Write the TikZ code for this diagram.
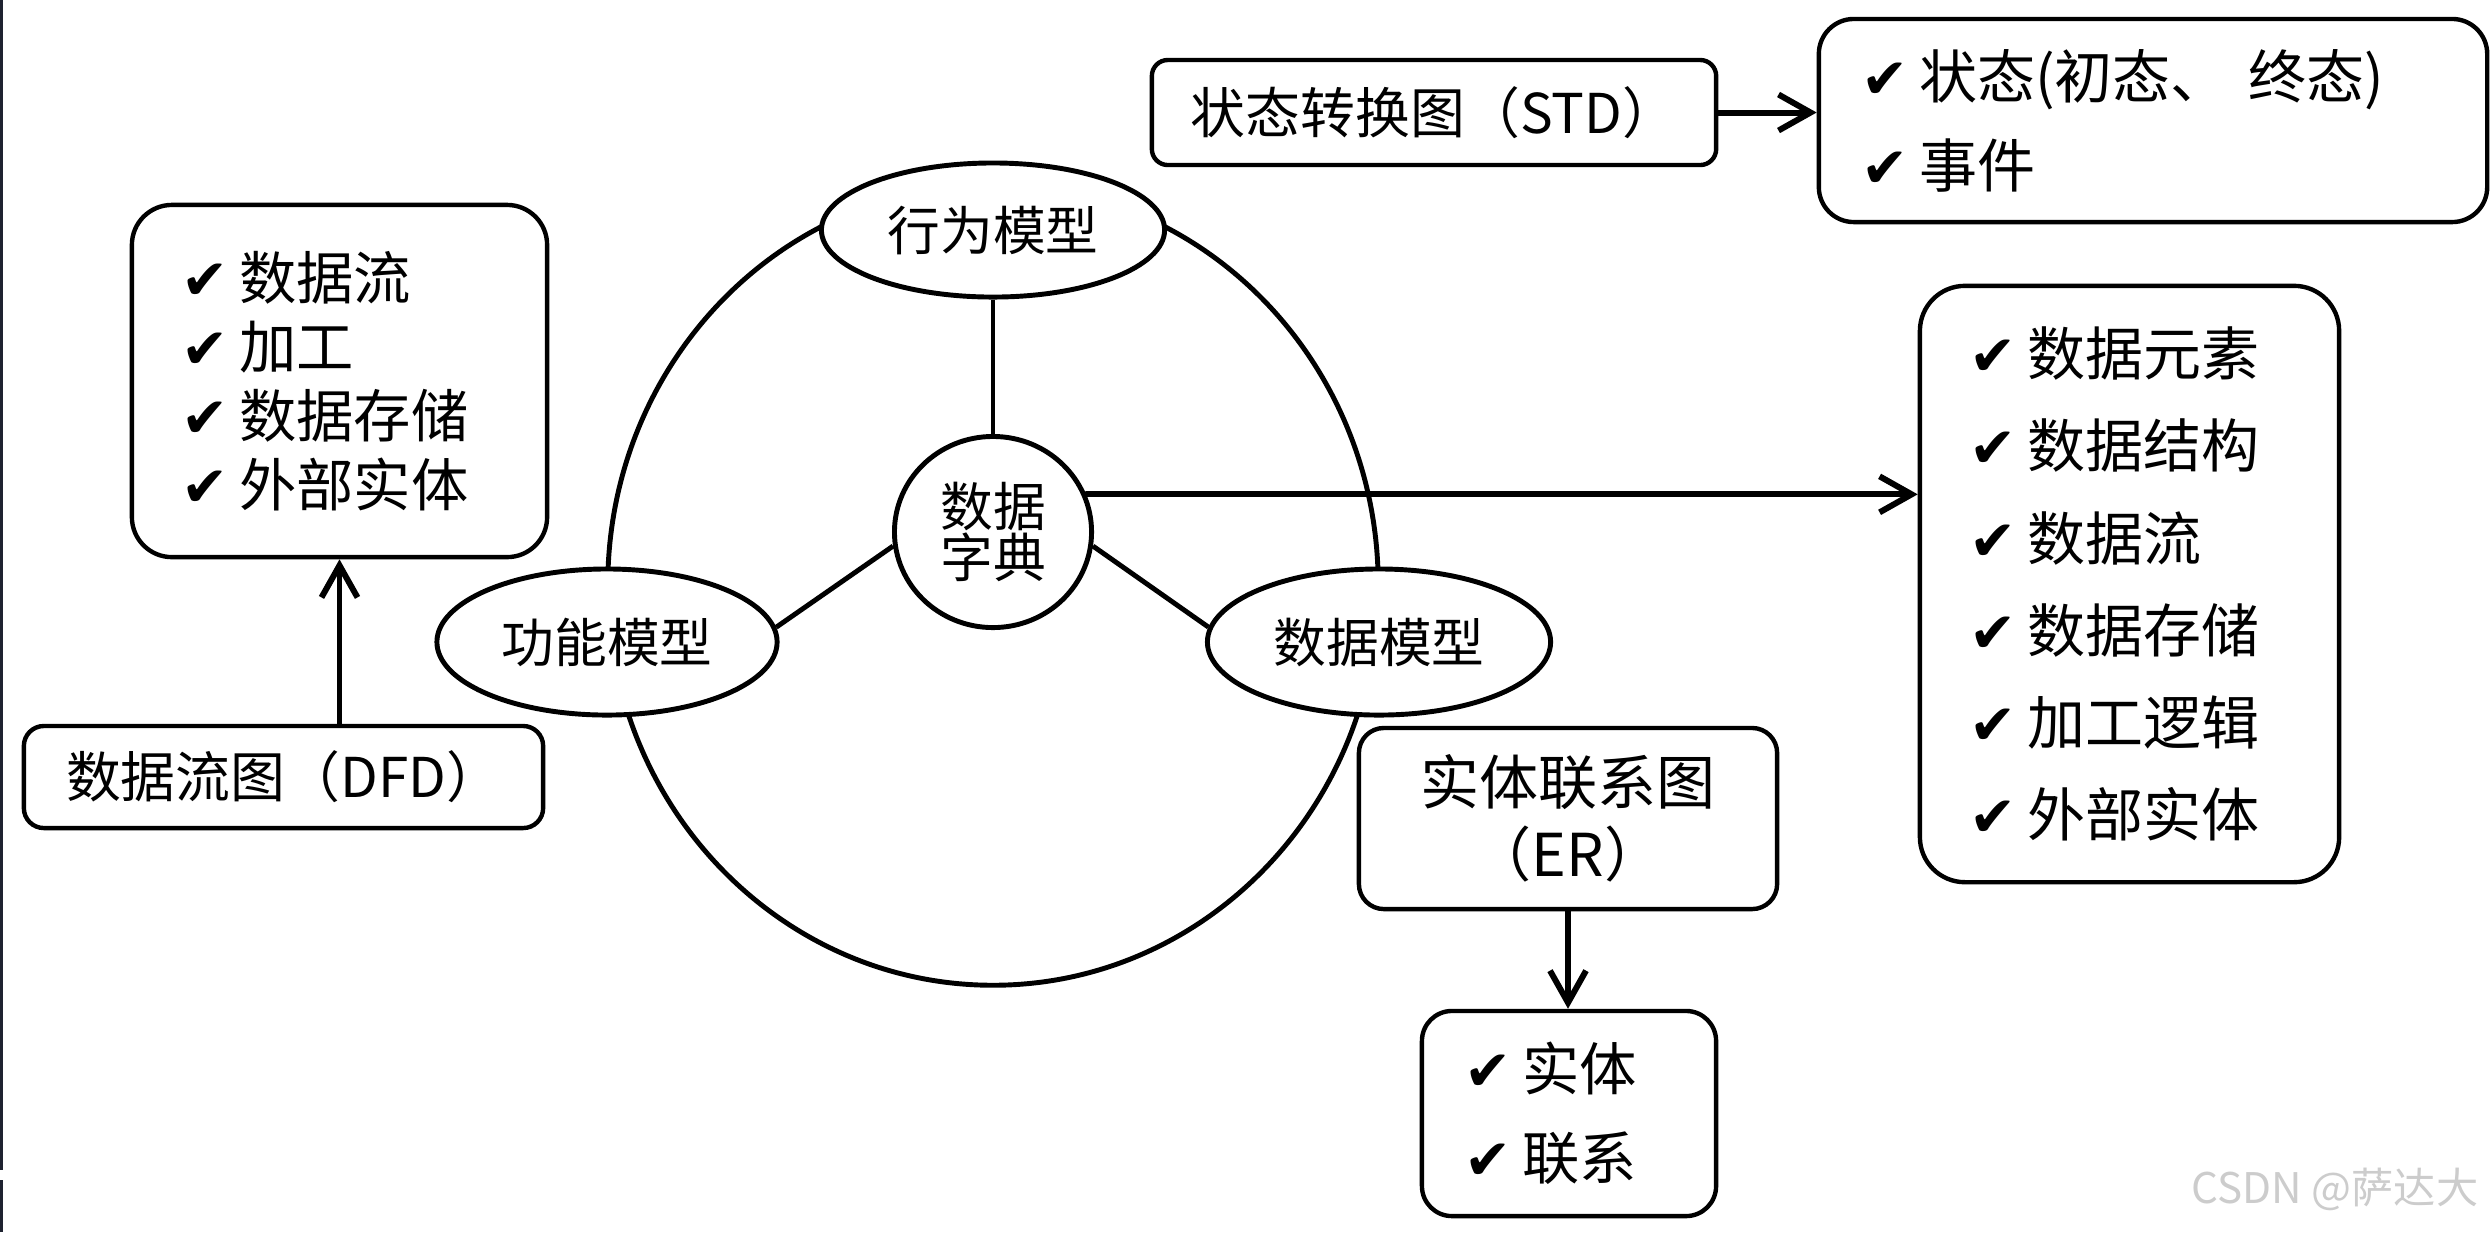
\documentclass[tikz,border=0pt]{standalone}
\usepackage{fontspec}
\setmainfont{Noto Sans CJK SC}
\newfontfamily\dejavu{DejaVu Sans}
\usepackage{tikz}
\usetikzlibrary{arrows.meta,shapes.geometric}
\newcommand{\ck}{{\dejavu\fontsize{16pt}{16pt}\selectfont ✔}\hspace{0.1cm}}

\begin{document}
\begin{tikzpicture}[x=0.01cm, y=-0.01cm,
  box/.style={draw, line width=1.25pt, rounded corners=0.2cm, inner sep=0pt},
  listbox/.style={box, align=left},
  model/.style={ellipse, draw, fill=white, line width=1.4pt, inner sep=0pt, font=\fontsize{15}{14.5}\selectfont},
  link/.style={line width=1.4pt},
  arr/.style={-{Straight Barb[length=3.2mm,width=3.6mm]}, line width=1.7pt, line cap=round}]
\fill[white] (0,0) rectangle (2492,1232);
\useasboundingbox (0,0) rectangle (2492,1232);
\draw[line width=0.85pt, color={rgb,255:red,30;green,34;blue,48}] (1.5,0) -- (1.5,1170) (1.5,1180) -- (1.5,1232);
% the three models round the data dictionary
\node[model, minimum width=7.7cm, minimum height=8cm] (ring) at (993,585) {};
\node[model, minimum width=3.43cm, minimum height=1.34cm] (beh) at (993,230) {行为模型};
\node[model, minimum width=3.40cm, minimum height=1.46cm] (fun) at (607,642) {功能模型};
\node[model, minimum width=3.43cm, minimum height=1.46cm] (dm) at (1379,642) {数据模型};
\node[model, minimum width=1.97cm, minimum height=1.91cm, align=center] (dict) at (993,532) {数据\\字典};
\draw[link] (beh) -- (dict);
\draw[link] (dict.188) -- (fun.5);
\draw[link] (dict.-8) -- (dm.175);
% boxes
\node[listbox, rounded corners=0.4cm, inner xsep=0.5cm, text width=3.15cm, minimum height=3.52cm, font=\fontsize{16.3}{19.6}\selectfont] (funlist) at (339.5,381) {\ck 数据流\\\ck 加工\\\ck 数据存储\\\ck 外部实体};
\node[box, minimum width=5.19cm, minimum height=1.02cm, font=\fontsize{15.6}{16}\selectfont] (dfd) at (283.5,777) {数据流图（DFD）};
\node[box, rounded corners=0.16cm, minimum width=5.64cm, minimum height=1.05cm, font=\fontsize{15.6}{16}\selectfont] (std) at (1434,112.5) {状态转换图（STD）};
\node[listbox, rounded corners=0.35cm, inner xsep=0.43cm, text width=5.82cm, minimum height=2.03cm, font=\fontsize{16.5}{25.3}\selectfont] (stdlist) at (2153,120.5) {\ck 状态(初态、 终态)\\\ck 事件};
\node[listbox, rounded corners=0.45cm, inner xsep=0.5cm, text width=3.19cm, minimum height=5.96cm, font=\fontsize{16.5}{26.2}\selectfont] (dictlist) at (2129.5,584) {\ck 数据元素\\\ck 数据结构\\\ck 数据流\\\ck 数据存储\\\ck 加工逻辑\\\ck 外部实体};
\node[box, rounded corners=0.25cm, minimum width=4.18cm, minimum height=1.81cm, align=center, font=\fontsize{16.8}{20.5}\selectfont] (er) at (1568,818.5) {实体联系图\\（ER）};
\node[listbox, rounded corners=0.3cm, inner xsep=0.43cm, text width=2.08cm, minimum height=2.05cm, font=\fontsize{16.3}{25.3}\selectfont] (erlist) at (1569,1113.5) {\ck 实体\\\ck 联系};
\draw[arr] (dfd.north -| funlist.south) -- (funlist.south);
\draw[arr] (std.east) -- (std.east -| stdlist.west);
\draw[arr] (dict.22) -- (dict.22 -| dictlist.west);
\draw[arr] (er.south) -- (erlist.north -| er.south);
\node[anchor=east, inner sep=0pt, text=gray!40, font=\fontsize{12}{12}\selectfont] (mark) at (2479,1189) {CSDN @萨达大};
\end{tikzpicture}
\end{document}
